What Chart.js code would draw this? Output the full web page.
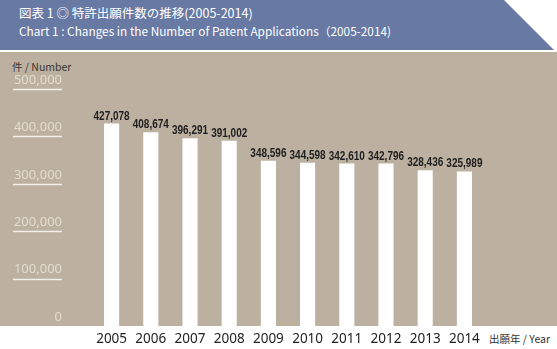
<!DOCTYPE html>
<html>
<head>
<meta charset="utf-8">
<script src="https://cdn.jsdelivr.net/npm/chart.js@4"></script>
<style>
  html, body { margin: 0; padding: 0; background: #fff; }
  #wrap { position: relative; width: 557px; height: 349px; overflow: hidden; }
  #head {
    position: absolute; left: 0; top: 0; width: 557px; height: 50px;
    background: #6879a4;
    clip-path: polygon(0 0, 504px 0, 554px 50px, 0 50px);
    color: #fff; font-family: "Noto Sans CJK JP", "Noto Sans", sans-serif;
  }
  #t1 { position: absolute; left: 19px; top: 3px; font-size: 12.5px; font-weight: 400; }
  #t2 { position: absolute; left: 19px; top: 22px; font-size: 11.8px; font-weight: 400; }
  #bg { position: absolute; left: 0; top: 52px; width: 557px; height: 274px; background: #bcb1a0; }
  #unit { position: absolute; left: 12px; top: 59px; font: 10.5px "Noto Sans CJK JP", "Noto Sans", sans-serif; color: #3a3530; }
  #xunit { position: absolute; left: 489px; top: 331px; font: 10.5px "Noto Sans CJK JP", "Noto Sans", sans-serif; color: #333; }
  canvas { position: absolute; left: 0; top: 0; }
</style>
</head>
<body>
<div id="wrap">
  <div id="head">
    <div id="t1">図表 1 ◎ 特許出願件数の推移(2005-2014)</div>
    <div id="t2">Chart 1 : Changes in the Number of Patent Applications（2005-2014)</div>
  </div>
  <div id="bg"></div>
  <div id="unit">件 / Number</div>
  <div id="xunit">出願年 / Year</div>
  <canvas id="myChart" width="557" height="349"></canvas>
</div>
<script>
const years = ["2005", "2006", "2007", "2008", "2009", "2010", "2011", "2012", "2013", "2014"];
const applications = [427078, 408674, 396291, 391002, 348596, 344598, 342610, 342796, 328436, 325989];
const yTicks = [0, 100000, 200000, 300000, 400000, 500000];

// short white rule under each y label
const underlines = {
  id: "underlines",
  beforeDatasetsDraw(chart) {
    const ctx = chart.ctx;
    const y = chart.scales.y;
    ctx.save();
    ctx.strokeStyle = "#f3efe8";
    ctx.lineWidth = 1.5;
    y.ticks.forEach(t => {
      if (t.value <= 0) return;
      const py = Math.round(y.getPixelForValue(t.value)) + 0.5;
      ctx.beginPath();
      ctx.moveTo(13, py);
      ctx.lineTo(62, py);
      ctx.stroke();
    });
    ctx.restore();
  }
};

// year labels under the white page edge, placed by the x scale
const yearLabels = {
  id: "yearLabels",
  afterDraw(chart) {
    const ctx = chart.ctx;
    const x = chart.scales.x;
    ctx.save();
    ctx.font = '13.5px "Noto Sans", sans-serif';
    ctx.fillStyle = "#222";
    ctx.textAlign = "center";
    ctx.textBaseline = "middle";
    chart.data.labels.forEach((lab, i) => {
      ctx.fillText(lab, x.getPixelForTick(i), chart.chartArea.bottom + 13);
    });
    ctx.restore();
  }
};

// value labels above the bars, squeezed to look condensed
const barLabels = {
  id: "barLabels",
  afterDatasetsDraw(chart) {
    const ctx = chart.ctx;
    const meta = chart.getDatasetMeta(0);
    const squeeze = 0.8;
    ctx.save();
    ctx.font = 'bold 12.5px "Liberation Sans", sans-serif';
    ctx.fillStyle = "#1e1e1e";
    ctx.textAlign = "center";
    ctx.textBaseline = "alphabetic";
    meta.data.forEach((bar, i) => {
      ctx.save();
      ctx.translate(bar.x, bar.y - 4);
      ctx.scale(squeeze, 1);
      ctx.fillText(applications[i].toLocaleString("en-US"), 0, 0);
      ctx.restore();
    });
    ctx.restore();
  }
};

new Chart(document.getElementById("myChart").getContext("2d"), {
  type: "bar",
  data: {
    labels: years,
    datasets: [{
      data: applications,
      backgroundColor: "#ffffff",
      borderWidth: 0,
      barPercentage: 0.385,
      categoryPercentage: 1
    }]
  },
  options: {
    responsive: false,
    animation: false,
    layout: { padding: { top: 89, right: 73, left: 0, bottom: 0 } },
    plugins: { legend: { display: false }, tooltip: { enabled: false } },
    scales: {
      x: {
        grid: { display: false, drawTicks: false },
        border: { display: false },
        afterFit: s => {
          s.height = 23;
          s.paddingLeft = 0;
          s.paddingRight = 0;
        },
        ticks: { display: false }
      },
      y: {
        min: 0,
        max: 500000,
        grid: { display: false, drawTicks: false },
        border: { display: false },
        afterFit: s => {
          s.width = 92;
          s.paddingTop = 0;
          s.paddingBottom = 0;
        },
        afterBuildTicks: s => { s.ticks = yTicks.map(v => ({ value: v })); },
        ticks: {
          color: "#e2dccf",
          font: { family: "Noto Sans", size: 13 },
          padding: 30,
          labelOffset: -9,
          callback: v => v.toLocaleString("en-US")
        }
      }
    }
  },
  plugins: [underlines, barLabels, yearLabels]
});
</script>
</body>
</html>
